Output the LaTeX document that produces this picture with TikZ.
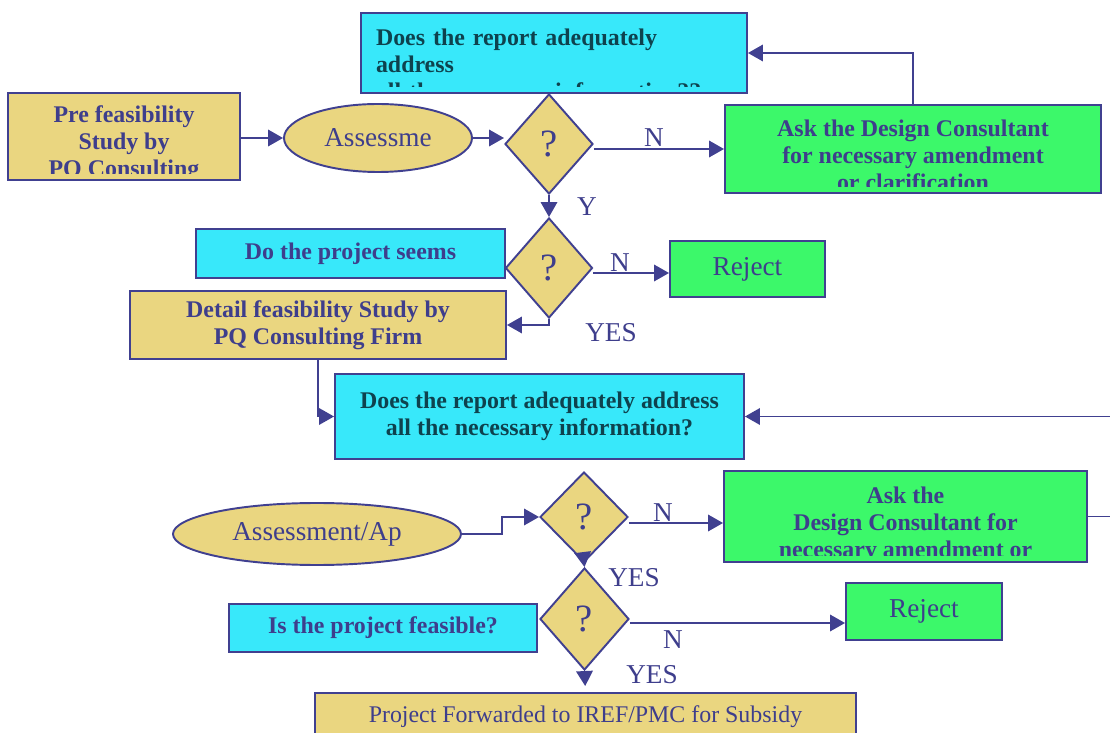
\documentclass[tikz,border=0pt]{standalone}
\usepackage{fontspec}
\setmainfont{Liberation Serif}
\usetikzlibrary{arrows.meta,shapes,positioning,calc}
\definecolor{edge}{RGB}{64,64,144}
\definecolor{ink}{RGB}{62,62,140}
\definecolor{darkteal}{RGB}{14,66,78}
\definecolor{tanfill}{RGB}{234,214,128}
\definecolor{cyanfill}{RGB}{56,232,250}
\definecolor{greenfill}{RGB}{60,248,106}
\newcommand\boxfont{\bfseries\fontsize{13.6}{15.4}\selectfont}
\newcommand\shapefont{\fontsize{15.5}{18}\selectfont}
\newcommand\markfont{\fontsize{22}{24}\selectfont}
\tikzset{
    flow/.style={-{Triangle[length=3mm, width=3.3mm]}, line width=1.1pt, edge},
    wh/.style 2 args={minimum width=#1*0.02cm, minimum height=#2*0.02cm},
    box/.style={draw=edge, line width=1.1pt, rectangle, inner sep=0pt, align=center, text=ink, font=\boxfont},
    tanbox/.style={box, fill=tanfill},
    cyanbox/.style={box, fill=cyanfill},
    greenbox/.style={box, fill=greenfill},
    assess/.style={draw=edge, line width=1.1pt, ellipse, fill=tanfill, inner sep=0pt, text=ink, font=\shapefont},
    decision/.style={draw=edge, line width=1.1pt, diamond, fill=tanfill, inner sep=0pt, text=ink, font=\markfont},
    lbl/.style={inner sep=0pt, text=ink, font=\shapefont},
    cliptext/.style 2 args={path picture={
        \clip ([yshift=0.13cm]path picture bounding box.south west) rectangle (path picture bounding box.north east);
        \node[anchor=north, inner sep=0pt, text=ink, font=\boxfont, align=center, #1]
            at ([yshift=-0.28cm]path picture bounding box.north) {#2};}}
}
\begin{document}
\begin{tikzpicture}[x=0.02cm, y=-0.02cm]
\useasboundingbox (0,0) rectangle (1110,733);
\clip (0,0) rectangle (1110,733);
\coordinate (loop) at (1130,470);

% pre feasibility stage
\node[cyanbox, wh={386}{80}, cliptext={align=left, text width=7.12cm, text=darkteal, yshift=0.02cm}{Does the report adequately\\address\\all the necessary information??}] (report1) at (554,53) {};
\node[tanbox, wh={232}{87}, cliptext={yshift=0.15cm}{Pre feasibility\\Study by\\PQ Consulting}] (pre) at (124,136.5) {};
\node[assess, wh={188}{68}] (assess1) at (378,138) {Assessme};
\node[decision, wh={88}{100}] (dec1) at (549,144) {\raisebox{-3pt}{?}};
\node[greenbox, wh={376}{88}, cliptext={yshift=0.17cm}{Ask the Design Consultant\\for necessary amendment\\or clarification}] (ask1) at (913,149) {};
\node[cyanbox, wh={309}{49}] (seems) at (350.5,253.5) {Do the project seems};
\node[decision, wh={87}{100}] (dec2) at (549,268) {\raisebox{-3pt}{?}};
\node[greenbox, wh={155}{56}, font=\shapefont] (reject1) at (747.5,269) {Reject};

% detail feasibility stage
\node[tanbox, wh={376}{68}] (detail) at (318,325) {Detail feasibility Study by\\PQ Consulting Firm};
\node[cyanbox, wh={409}{85}, text=darkteal] (report2) at (539.5,416.5) {Does the report adequately address\\all the necessary information?};
\node[assess, wh={288}{62}] (assess2) at (317,534) {Assessment/Ap};
\node[decision, wh={88}{90}] (dec3) at (584,517) {\raisebox{-3pt}{?}};
\node[greenbox, wh={363}{91}, cliptext={yshift=0.14cm}{Ask the\\Design Consultant for\\necessary amendment or}] (ask2) at (905.5,516.5) {};
\node[cyanbox, wh={308}{48}] (feasible) at (383,628) {Is the project feasible?};
\node[decision, wh={89}{102}] (dec4) at (584.5,619) {\raisebox{-3pt}{?}};
\node[greenbox, wh={156}{57}, font=\shapefont] (reject2) at (924,611.5) {Reject};
\node[tanbox, wh={541}{47}, font=\fontsize{13.6}{15.4}\selectfont] (forward) at (585.5,716.5) {Project Forwarded to IREF/PMC for Subsidy};

% connectors
\draw[flow] (pre.east |- assess1) -- (assess1.west);
\draw[flow] (assess1.east) -- (assess1.east -| dec1.west);
\draw[flow] (dec1.east |- ask1.west) -- (ask1.west);
\draw[flow] (ask1.north) |- (report1.east);
\draw[flow] (dec1.south) -- (dec2.north);
\draw[flow] ([yshift=-0.1cm]dec2.east) -- ([yshift=-0.1cm]dec2.east -| reject1.west);
\draw[flow] (dec2.south) |- (detail.east);
\draw[flow] (detail.south) |- (report2.west);
\draw[flow] (ask2.east) -- (ask2.east -| loop) -- (loop |- report2.east) -- (report2.east);
\draw[flow] (assess2.east) -- ++(40,0) |- (dec3.west);
\draw[flow] ([yshift=-0.12cm]dec3.east) -- ([yshift=-0.12cm]dec3.east -| ask2.west);
\draw[flow] (dec3.south) -- (dec4.north);
\draw[flow] ([yshift=-0.08cm]dec4.east) -- ([yshift=-0.08cm]dec4.east -| reject2.west);
\draw[flow, shorten >=1.2mm] (dec4.south) -- (forward.north);

% branch labels
\node[lbl] (n1) at (654,138) {N};
\node[lbl] (y1) at (587,207) {Y};
\node[lbl] (n2) at (620,263) {N};
\node[lbl] (yes2) at (611,333) {YES};
\node[lbl] (n3) at (663,513) {N};
\node[lbl] (yes3) at (634,578) {YES};
\node[lbl] (n4) at (673,640) {N};
\node[lbl] (yes4) at (652,675) {YES};
\end{tikzpicture}
\end{document}
